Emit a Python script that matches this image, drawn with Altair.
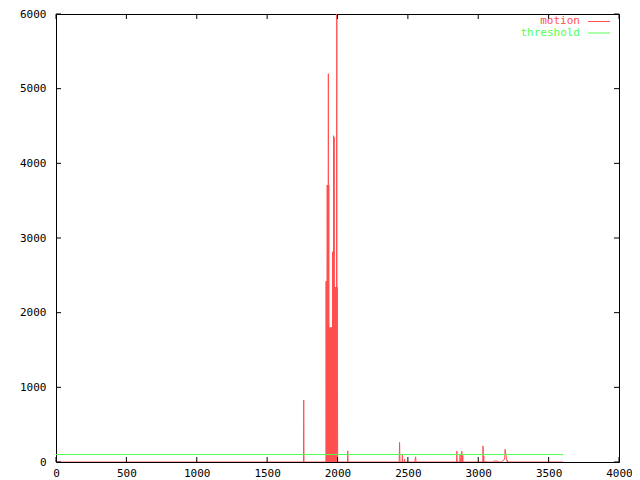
import altair as alt
import pandas as pd

# ---- data ----
motion_x = [0,
            1758, 1760, 1762,
            1916, 1918, 1919, 1921, 1923, 1925, 1927, 1929, 1931, 1933, 1935, 1936, 1938, 1940,
            1942, 1944, 1946, 1948, 1950, 1952, 1954, 1956, 1958, 1960, 1962, 1964,
            1965, 1967, 1969, 1971, 1972, 1974, 1976, 1977, 1979, 1981, 1983, 1985, 1987,
            1989, 1991, 1993, 1995, 1997, 1999, 2001,
            2071, 2073, 2075,
            2438, 2441, 2444, 2459, 2461, 2463, 2474, 2476, 2478,
            2549, 2552, 2555, 2558,
            2846, 2848, 2850, 2869, 2871, 2873, 2881, 2883, 2885, 2888, 2890, 2892,
            3032, 3034, 3037, 3039, 3041, 3053, 3055, 3057,
            3108, 3110, 3138, 3140,
            3160, 3166, 3172, 3178, 3182, 3185, 3188, 3191, 3194, 3197, 3200, 3204, 3206, 3208, 3210,
            3603]
motion_y = [0,
            0, 830, 0,
            0, 0, 2420, 0, 2420, 0, 3710, 0, 3710, 0, 5200, 0, 3710, 0,
            1800, 0, 1700, 0, 1800, 0, 1800, 0, 1800, 0, 1800, 0,
            2815, 0, 2815, 0, 4370, 0, 4350, 2815, 0, 2340, 0, 2340, 0,
            2340, 0, 2340, 6300, 0, 2340, 0,
            0, 150, 0,
            0, 263, 0, 0, 100, 0, 0, 40, 0,
            0, 40, 70, 0,
            0, 145, 0, 0, 100, 0, 0, 145, 0, 0, 90, 0,
            0, 215, 0, 80, 0, 0, 12, 0,
            0, 12, 12, 0,
            0, 8, 12, 15, 25, 40, 55, 170, 120, 105, 40, 20, 0, 25, 0,
            0]
threshold_x = [0, 3603]
threshold_y = [100, 100]

x_ticks = [0, 500, 1000, 1500, 2000, 2500, 3000, 3500, 4000]
y_ticks = [0, 1000, 2000, 3000, 4000, 5000, 6000]
legend_labels = ["motion", "threshold"]
series_colors = ["#ff5050", "#50ff50"]

# ---- layout ----
W, H = 563, 448
TOP = 6
LEFT = 48
FONT = "DejaVu Sans Mono"
FS = 11
TICK = 5

motion = pd.DataFrame({"x": motion_x, "y": motion_y, "series": "motion"})
thr = pd.DataFrame({"x": threshold_x, "y": threshold_y, "series": "threshold"})
data = pd.concat([motion, thr], ignore_index=True)

xscale = alt.Scale(domain=[0, 4000], nice=False, zero=False)
yscale = alt.Scale(domain=[0, 6000], nice=False)
color = alt.Color("series:N", scale=alt.Scale(domain=legend_labels, range=series_colors), legend=None)

axis_common = dict(ticks=False, tickSize=0, domain=False, grid=False, labelFont=FONT,
                   labelFontSize=FS, labelColor="black", title=None, format="d",
                   labelFlush=False, labelOverlap=False)
x_axis = alt.Axis(values=x_ticks, labelPadding=5, **axis_common)
y_axis = alt.Axis(values=y_ticks, labelPadding=10, **axis_common)

lines = alt.Chart(data).mark_line(strokeWidth=1, clip=True).encode(
    x=alt.X("x:Q", scale=xscale, axis=x_axis, title=None),
    y=alt.Y("y:Q", scale=yscale, axis=y_axis, title=None),
    color=color,
    order="x:Q",
)

xt = pd.DataFrame({"x": x_ticks})
yt = pd.DataFrame({"y": y_ticks})
tick_x_bottom = alt.Chart(xt).mark_rule(color="black", strokeWidth=1).encode(
    x=alt.X("x:Q", scale=xscale, axis=x_axis, title=None), y=alt.value(H), y2=alt.value(H - TICK))
tick_x_top = alt.Chart(xt).mark_rule(color="black", strokeWidth=1).encode(
    x=alt.X("x:Q", scale=xscale, axis=x_axis, title=None), y=alt.value(0), y2=alt.value(TICK))
tick_y_left = alt.Chart(yt).mark_rule(color="black", strokeWidth=1).encode(
    y=alt.Y("y:Q", scale=yscale, axis=y_axis, title=None), x=alt.value(0), x2=alt.value(TICK))
tick_y_right = alt.Chart(yt).mark_rule(color="black", strokeWidth=1).encode(
    y=alt.Y("y:Q", scale=yscale, axis=y_axis, title=None), x=alt.value(W), x2=alt.value(W - TICK))

leg_df = pd.DataFrame({"series": legend_labels})
leg_layers = []
for lab, ypos in zip(legend_labels, [21 - 8 - TOP, 32.5 - 8 - TOP]):
    base = alt.Chart(leg_df).transform_filter(alt.datum.series == lab)
    leg_layers.append(base.mark_text(align="right", baseline="middle", font=FONT, fontSize=FS).encode(
        x=alt.value(580 - 8 - LEFT), y=alt.value(ypos), text="series:N", color=color))
    leg_layers.append(base.mark_rule(strokeWidth=1).encode(
        x=alt.value(588 - 8 - LEFT), x2=alt.value(610 - 8 - LEFT), y=alt.value(ypos + 0.5), color=color))

chart = alt.layer(lines, tick_x_bottom, tick_x_top, tick_y_left, tick_y_right, *leg_layers).properties(
    width=W, height=H,
    padding={"left": LEFT, "top": TOP, "right": 13, "bottom": 16},
    autosize=alt.AutoSizeParams(type="none"),
    background="white",
).configure_view(stroke="black", strokeWidth=1)

chart.save("out.html", embed_options={"renderer": "svg", "actions": False})
